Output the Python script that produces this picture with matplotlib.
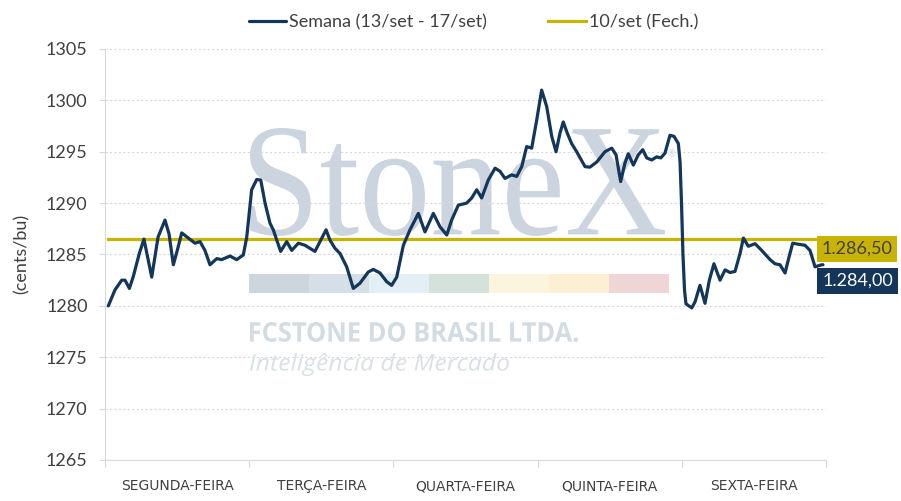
import numpy as np
import matplotlib
matplotlib.use("Agg")
import matplotlib.pyplot as plt
from matplotlib.textpath import TextPath
from matplotlib.patches import PathPatch, Rectangle
from matplotlib.font_manager import FontProperties
from matplotlib.transforms import Affine2D

# --- data ---
dias = ["SEGUNDA-FEIRA", "TERÇA-FEIRA", "QUARTA-FEIRA", "QUINTA-FEIRA", "SEXTA-FEIRA"]

# time in "days" since monday open, price in cents/bu
t = [0.023, 0.069, 0.116, 0.139, 0.169, 0.196, 0.238, 0.270, 0.324, 0.368,
     0.416, 0.444, 0.474, 0.503, 0.532, 0.578, 0.624, 0.659, 0.693, 0.728,
     0.775, 0.809, 0.867, 0.913, 0.959, 0.983, 1.017, 1.052, 1.080, 1.110,
     1.144, 1.167, 1.191, 1.218, 1.260, 1.295, 1.341, 1.387, 1.422, 1.456,
     1.491, 1.533, 1.560, 1.595, 1.630, 1.676, 1.722, 1.768, 1.826, 1.861,
     1.907, 1.954, 1.988, 2.023, 2.069, 2.115, 2.173, 2.219, 2.277, 2.323,
     2.370, 2.404, 2.450, 2.508, 2.543, 2.578, 2.612, 2.658, 2.705, 2.739,
     2.774, 2.820, 2.855, 2.890, 2.924, 2.959, 2.994, 3.028, 3.063, 3.098,
     3.128, 3.155, 3.178, 3.206, 3.236, 3.271, 3.329, 3.363, 3.410, 3.467,
     3.514, 3.544, 3.576, 3.606, 3.629, 3.664, 3.698, 3.729, 3.757, 3.791,
     3.826, 3.854, 3.883, 3.918, 3.946, 3.976, 3.988, 3.998, 4.008, 4.019,
     4.029, 4.069, 4.092, 4.126, 4.161, 4.191, 4.223, 4.265, 4.300, 4.334,
     4.369, 4.404, 4.427, 4.461, 4.508, 4.554, 4.612, 4.646, 4.681, 4.716,
     4.739, 4.769, 4.808, 4.854, 4.889, 4.924, 4.970, 4.979]
semana = [1280.00, 1281.55, 1282.50, 1282.50, 1281.70, 1282.85, 1285.10, 1286.50, 1282.80, 1286.70,
          1288.35, 1287.00, 1284.00, 1285.50, 1287.10, 1286.60, 1286.10, 1286.25, 1285.40, 1284.00,
          1284.60, 1284.50, 1284.85, 1284.50, 1284.95, 1286.70, 1291.30, 1292.30, 1292.25, 1290.00,
          1288.05, 1287.40, 1286.40, 1285.30, 1286.25, 1285.40, 1286.10, 1285.90, 1285.60, 1285.30,
          1286.25, 1287.40, 1286.40, 1285.60, 1285.10, 1283.80, 1281.70, 1282.20, 1283.30, 1283.55,
          1283.20, 1282.35, 1282.00, 1282.80, 1285.90, 1287.40, 1289.00, 1287.20, 1289.00, 1287.70,
          1286.90, 1288.35, 1289.80, 1290.00, 1290.50, 1291.30, 1290.50, 1292.25, 1293.40, 1293.10,
          1292.40, 1292.75, 1292.60, 1293.55, 1295.50, 1295.35, 1298.10, 1301.00, 1299.40, 1296.50,
          1295.00, 1296.80, 1297.90, 1296.80, 1295.80, 1295.00, 1293.55, 1293.50, 1294.00, 1295.00,
          1295.35, 1294.70, 1292.10, 1293.90, 1294.80, 1293.70, 1294.70, 1295.20, 1294.40, 1294.20,
          1294.50, 1294.40, 1294.85, 1296.60, 1296.50, 1295.80, 1294.00, 1290.00, 1285.00, 1281.50,
          1280.20, 1279.80, 1280.40, 1282.00, 1280.25, 1282.50, 1284.10, 1282.50, 1283.50, 1283.25,
          1283.35, 1285.10, 1286.60, 1285.80, 1286.05, 1285.40, 1284.50, 1284.10, 1284.00, 1283.20,
          1284.50, 1286.10, 1286.00, 1285.90, 1285.40, 1283.80, 1284.00, 1284.00]
fech = 1286.50

serie_labels = ["Semana (13/set - 17/set)", "10/set (Fech.)"]
yticks = [1265, 1270, 1275, 1280, 1285, 1290, 1295, 1300, 1305]

NAVY = "#13365A"
GOLD = "#C8B400"
TXT = "#404040"
GRID = "#D9D9D9"


def br(v):
    s = "{:,.2f}".format(v)
    return s.replace(",", "X").replace(".", ",").replace("X", ".")


def fitted_text(ax, s, box, prop, color):
    x0, y0, x1, y1 = box
    tp = TextPath((0, 0), s, size=100, prop=prop)
    ext = tp.get_extents()
    tr = (Affine2D().translate(-ext.x0, -ext.y0)
          .scale((x1 - x0) / ext.width, (y1 - y0) / ext.height)
          .translate(x0, y0) + ax.transAxes)
    ax.add_patch(PathPatch(tp, transform=tr, facecolor=color, lw=0, zorder=0.1))


fig = plt.figure(figsize=(9.01, 5.01), dpi=100)
ax = fig.add_axes([105 / 901, 41 / 501, 721 / 901, 411 / 501])

# watermark
fitted_text(ax, "StoneX", (0.2011, 0.545, 0.7767, 0.8078),
            FontProperties(family="Liberation Serif"), "#CCD5DF")
ax.text(0.786, 0.745, "®", transform=ax.transAxes, fontsize=7, color="#CCD5DF",
        ha="center", va="center", zorder=0.1)
fitted_text(ax, "FCSTONE DO BRASIL LTDA.", (0.2011, 0.2871, 0.6560, 0.3358),
            FontProperties(family="Open Sans", weight="bold"), "#D3DBE3")
fitted_text(ax, "Inteligência de Mercado", (0.2011, 0.2044, 0.5603, 0.2603),
            FontProperties(family="Open Sans", style="italic"), "#DAE0E7")
barcols = ["#CDD5DD", "#D6DFE8", "#E3EEF5", "#D3E2DB", "#FAF5DC", "#FCEFD3", "#F0D5D6"]
for i, c in enumerate(barcols):
    ax.add_patch(Rectangle((0.1997 + i * 0.0832, 0.4063), 0.0832, 0.0463,
                           transform=ax.transAxes, facecolor=c, lw=0, zorder=0.1))

# series
ax.plot(t, semana, color=NAVY, lw=2.3, solid_joinstyle="round",
        solid_capstyle="round", label=serie_labels[0], zorder=3)
ax.plot([t[0], t[-1]], [fech, fech], color=GOLD, lw=2.3, label=serie_labels[1], zorder=2)

ax.annotate(br(fech), xy=(t[-1], fech), xytext=(24.5, -7), textcoords="offset points",
            ha="center", va="center", fontsize=13, family="Lato", color=TXT,
            bbox=dict(boxstyle="square,pad=0.27", fc=GOLD, ec="none"),
            annotation_clip=False, zorder=5)
ax.annotate(br(semana[-1]), xy=(t[-1], semana[-1]), xytext=(25, -11.5),
            textcoords="offset points", ha="center", va="center", fontsize=13,
            family="Lato", color="white",
            bbox=dict(boxstyle="square,pad=0.27", fc=NAVY, ec="none"),
            annotation_clip=False, zorder=5)

# axes styling
ax.set_xlim(0, 5)
ax.set_ylim(1265, 1305)
ax.set_yticks(yticks)
ax.set_yticklabels([str(v) for v in yticks])
ax.tick_params(axis="y", length=4.5, width=0.8, color=GRID, pad=8,
               labelsize=13, labelcolor=TXT)
for lab in ax.get_yticklabels():
    lab.set_family("Lato")
ax.set_xticks(range(6))
ax.set_xticklabels([])
ax.tick_params(axis="x", which="major", length=5, width=0.8, color=GRID)
ax.set_xticks(np.arange(len(dias)) + 0.5, minor=True)
ax.set_xticklabels(dias, minor=True)
ax.tick_params(axis="x", which="minor", length=0, pad=14, labelsize=10, labelcolor=TXT)

ax.grid(axis="y", color=GRID, ls=(0, (2, 2)), lw=0.8)
ax.set_axisbelow(True)
for side in ["top", "right"]:
    ax.spines[side].set_visible(False)
for side in ["left", "bottom"]:
    ax.spines[side].set_color(GRID)
    ax.spines[side].set_linewidth(0.8)

fig.text(22 / 901, 1 - 254 / 501, "(cents/bu)", rotation=90, ha="center", va="center",
         fontsize=13, family="Lato", color=TXT)

fig.legend(loc="center", bbox_to_anchor=(0.5255, 1 - 22 / 501), ncol=2, frameon=False,
           prop=FontProperties(family="Lato", size=13), labelcolor=TXT,
           handlelength=2.1, handletextpad=0.15, columnspacing=3.4)

fig.savefig("out.png", dpi=100, facecolor="white")
